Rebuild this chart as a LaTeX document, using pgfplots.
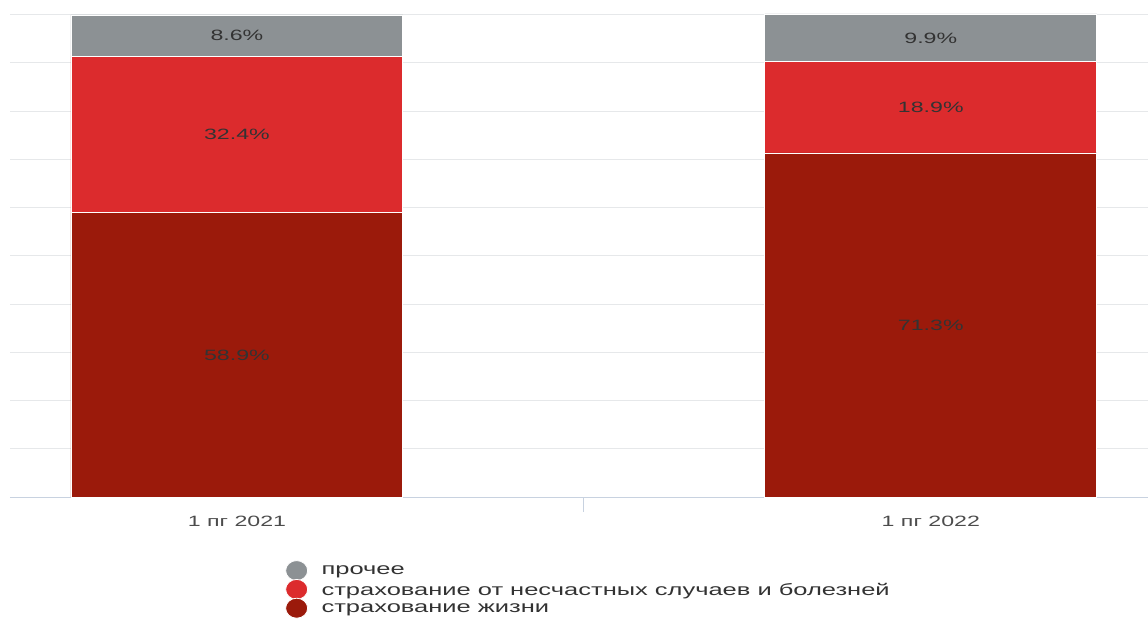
\documentclass[border=0pt]{standalone}
\usepackage{pgfplots}
\pgfplotsset{compat=1.18}
\usepackage{pgfplotstable}
\usepackage{fontspec}
\setmainfont{Liberation Sans}[FakeStretch=1.55]
\definecolor{cgrey}{HTML}{8C9194}
\definecolor{cred}{HTML}{DC2B2D}
\definecolor{cdark}{HTML}{9B1A0B}
\definecolor{cgrid}{HTML}{E6E8EA}
\definecolor{caxis}{HTML}{C8D2E0}
\definecolor{ctext}{HTML}{333333}
\pgfplotstableread{
x life acc other
0 58.9 32.4 8.6
1 71.3 18.9 9.9
}\data
\begin{document}
\begin{tikzpicture}
\begin{axis}[
  scale only axis,
  width=1138bp, height=483bp,
  xmin=-0.327, xmax=1.313,
  ymin=0, ymax=100.1,
  ybar stacked,
  bar width=0.4784,
  /pgf/number format/assume math mode=true,
  ytick={0,10,...,100},
  yticklabels={},
  ymajorgrids,
  grid style={draw=cgrid, line width=0.8bp},
  axis x line*=bottom,
  axis y line*=left,
  y axis line style={draw=none},
  ytick style={draw=none},
  x axis line style={draw=caxis, line width=1bp, -},
  xtick={0,1},
  xticklabels={1 пг 2021, 1 пг 2022},
  major tick length=0pt,
  xticklabel style={font=\fontsize{15}{17}\selectfont, text=black!70, yshift=-16bp},
  extra x ticks={0.5},
  extra x tick labels={},
  extra x tick style={major tick length=15bp, tick align=outside, tick style={draw=caxis, line width=1bp}},
  nodes near coords={\pgfmathprintnumber[fixed,precision=1,fixed zerofill]{\pgfplotspointmeta}\%},
  every node near coord/.append style={font=\fontsize{15}{17}\selectfont, text=ctext, anchor=center},
  legend cell align=left,
  reverse legend,
  legend style={draw=none, fill=none, at={(0.2417,0)}, anchor=north west, yshift=-63bp,
     font=\fontsize{16.5}{18}\selectfont, text=ctext, row sep=-2bp, inner sep=0pt,
     nodes={inner sep=1.5bp},
     /tikz/every odd column/.append style={column sep=12bp}},
  legend image code/.code={\fill[#1] (0.45em,0.05em) ellipse [x radius=11bp, y radius=10bp];},
]
\addplot+[fill=cdark, draw=white, line width=0.8bp, point meta=\thisrow{life}] table[x=x,y=life]{\data};
\addlegendentry{страхование жизни}
\addplot+[fill=cred, draw=white, line width=0.8bp, point meta=\thisrow{acc}] table[x=x,y=acc]{\data};
\addlegendentry{страхование от несчастных случаев и болезней}
\addplot+[fill=cgrey, draw=white, line width=0.8bp, point meta=\thisrow{other}] table[x=x,y=other]{\data};
\addlegendentry{прочее}
\end{axis}
\pgfresetboundingbox
\useasboundingbox ([shift={(-10bp,-122bp)}]current axis.south west) rectangle ([shift={(0bp,14bp)}]current axis.north east);
\end{tikzpicture}
\end{document}
